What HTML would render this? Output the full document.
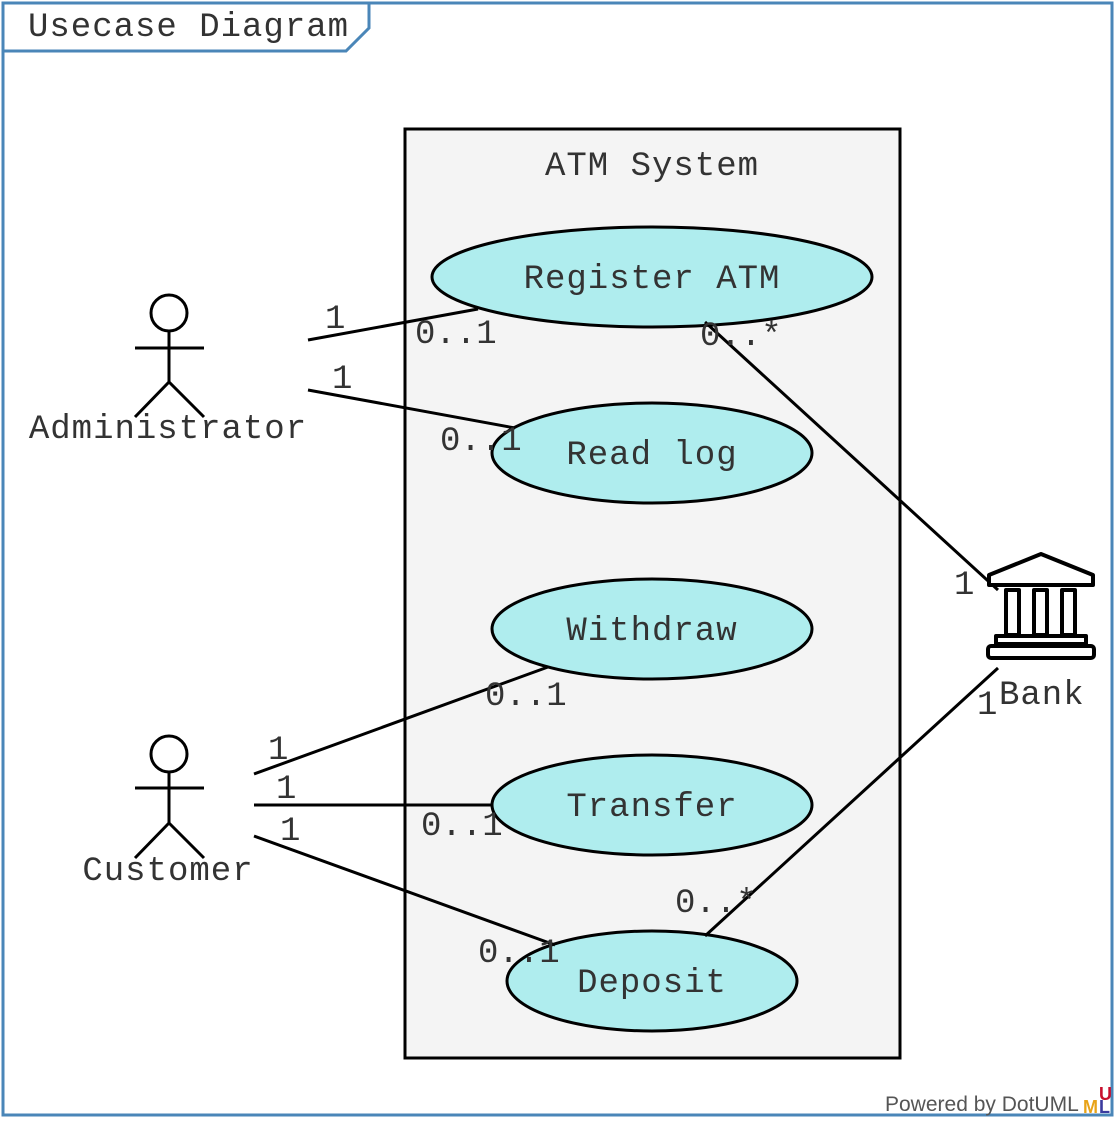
<!DOCTYPE html>
<html><head><meta charset="utf-8"><style>
body{margin:0;background:#fff;}
text{font-family:"Liberation Mono","Courier New",monospace;font-size:34px;fill:#333;}
</style></head><body>
<svg width="1115" height="1118" viewBox="0 0 1115 1118" xmlns="http://www.w3.org/2000/svg">
<rect x="0" y="0" width="1115" height="1118" fill="#fff"/>
<rect x="3" y="3" width="1109" height="1112" fill="none" stroke="#4a86b8" stroke-width="3"/>
<path d="M3 3 H369 V28 L346 51 H3" fill="none" stroke="#4a86b8" stroke-width="3"/>
<text x="28" y="36" style="letter-spacing:1px">Usecase Diagram</text>
<rect x="405" y="129" width="495" height="929" fill="#f4f4f4" stroke="#000" stroke-width="3"/>
<text x="652" y="175" text-anchor="middle" style="letter-spacing:1px">ATM System</text>
<g fill="#afedee" stroke="#000" stroke-width="3">
<ellipse cx="652" cy="277" rx="220" ry="50"/>
<ellipse cx="652" cy="453" rx="160" ry="50"/>
<ellipse cx="652" cy="629" rx="160" ry="50"/>
<ellipse cx="652" cy="805" rx="160" ry="50"/>
<ellipse cx="652" cy="981" rx="145" ry="50"/>
</g>
<g text-anchor="middle" style="letter-spacing:1px">
<text x="652" y="288">Register ATM</text>
<text x="652" y="464">Read log</text>
<text x="652" y="640">Withdraw</text>
<text x="652" y="816">Transfer</text>
<text x="652" y="992">Deposit</text>
</g>
<g stroke="#000" stroke-width="3" fill="none">
<line x1="308" y1="340" x2="478" y2="309"/>
<line x1="308" y1="390" x2="515" y2="428"/>
<line x1="705" y1="322" x2="998" y2="590"/>
<line x1="254" y1="774" x2="548" y2="667"/>
<line x1="254" y1="805" x2="493" y2="805"/>
<line x1="254" y1="836" x2="555" y2="945"/>
<line x1="705" y1="936" x2="998" y2="668"/>
<circle cx="169" cy="313" r="18" fill="#fff"/>
<path d="M169 331V382M135 348H204M169 382L135 417M169 382L204 417"/>
<circle cx="169" cy="754" r="18" fill="#fff"/>
<path d="M169 772V823M135 788H204M169 823L135 858M169 823L204 858"/>
</g>
<text x="168" y="438" text-anchor="middle" style="letter-spacing:1px">Administrator</text>
<text x="168" y="880" text-anchor="middle" style="letter-spacing:1px">Customer</text>
<g stroke="#000" stroke-width="4" fill="#fff" stroke-linejoin="round">
<path d="M989 575 L1041 554 L1093 575 V585 H989 Z"/>
<rect x="1006" y="590" width="13" height="45"/>
<rect x="1034" y="590" width="13" height="45"/>
<rect x="1062" y="590" width="13" height="45"/>
<rect x="996" y="636" width="90" height="8"/>
<rect x="988" y="646" width="106" height="12" rx="3"/>
</g>
<text x="999" y="704" style="letter-spacing:1px">Bank</text>
<g>
<text x="325" y="328">1</text>
<text x="415" y="343">0..1</text>
<text x="332" y="388">1</text>
<text x="440" y="450">0..1</text>
<text x="700" y="345">0..*</text>
<text x="954" y="594">1</text>
<text x="977" y="714">1</text>
<text x="485" y="705">0..1</text>
<text x="268" y="759">1</text>
<text x="276" y="798">1</text>
<text x="421" y="835">0..1</text>
<text x="280" y="840">1</text>
<text x="675" y="912">0..*</text>
<text x="478" y="962">0..1</text>
</g>
<text x="885" y="1111" style="font-family:'Liberation Sans',sans-serif;font-size:21px;fill:#555">Powered by DotUML</text>
<text x="1083" y="1113" style="font-family:'Liberation Sans',sans-serif;font-size:18px;font-weight:bold;fill:#e8a317">M</text>
<text x="1099" y="1100" style="font-family:'Liberation Sans',sans-serif;font-size:18px;font-weight:bold;fill:#c8102e">U</text>
<text x="1099" y="1113" style="font-family:'Liberation Sans',sans-serif;font-size:18px;font-weight:bold;fill:#3b3b9e">L</text>
</svg>
</body></html>
